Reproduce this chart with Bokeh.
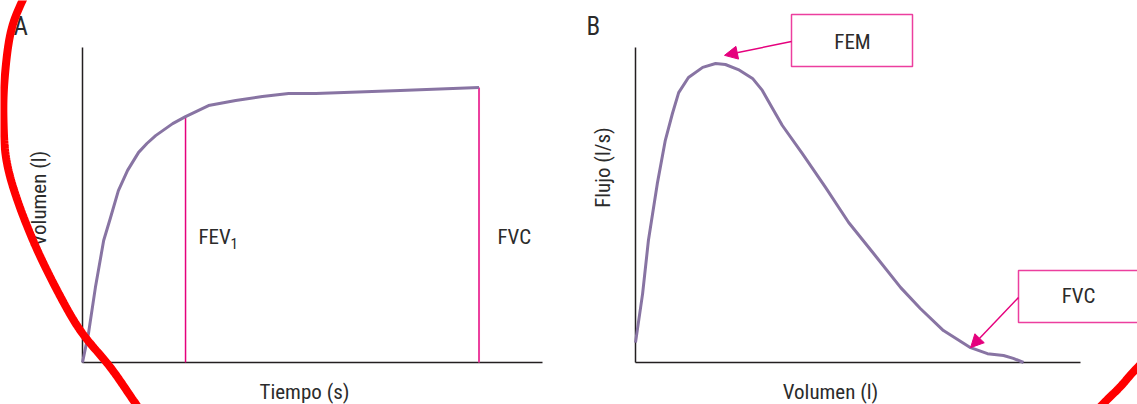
import numpy as np
from bokeh.plotting import figure
from bokeh.layouts import row
from bokeh.models import Label, Arrow, NormalHead, PolyAnnotation, Range1d
from bokeh.embed import file_html
from bokeh.resources import INLINE

# ---------------- data (schematic units) ----------------
# Panel A: volume-time curve
time_s = [0.0, 0.13, 0.28, 0.46, 0.61, 0.78, 0.98, 1.22, 1.40, 1.59, 1.96, 2.24, 2.74,
          3.33, 3.91, 4.48, 5.07, 6.91, 8.62]
volume_l = [0.0, 0.92, 2.37, 3.86, 4.59, 5.44, 6.08, 6.65, 6.93, 7.18, 7.56, 7.78, 8.13,
            8.29, 8.42, 8.51, 8.51, 8.61, 8.70]
fev1_t, fev1_v = 2.24, 7.78
fvc_t, fvc_v = 8.62, 8.70

# Panel B: flow-volume curve
fv_volume = [0.0, 0.16, 0.29, 0.49, 0.67, 0.83, 0.97, 1.19, 1.51, 1.80, 2.02, 2.31,
             2.63, 2.85, 3.08, 3.30, 3.75, 4.27, 4.79, 5.35, 5.96, 6.40, 6.92, 7.53,
             7.91, 8.27, 8.49, 8.72]
fv_flow = [0.63, 2.18, 3.86, 5.66, 7.03, 7.88, 8.54, 9.02, 9.34, 9.46, 9.43, 9.27,
           8.99, 8.61, 8.04, 7.50, 6.61, 5.54, 4.43, 3.45, 2.37, 1.71, 1.01, 0.47,
           0.28, 0.22, 0.13, 0.0]
pef_point = (2.0, 9.72)
fvc_point = (7.53, 0.47)

# axis extents (data units)
axis_x_max_A, axis_y_max_A = 10.0, 9.97
axis_x_max_B, axis_y_max_B = 10.0, 9.97

labels_A = {"panel": "A", "x": "Tiempo (s)", "y": "Volumen (l)", "fev": "FEV", "sub": "1", "fvc": "FVC"}
labels_B = {"panel": "B", "x": "Volumen (l)", "y": "Flujo (l/s)", "pef": "FEM", "fvc": "FVC"}

FONT = "'Liberation Sans Narrow', 'Roboto Condensed', Roboto, sans-serif"
TXT = "#2b2b2b"
AXIS = "#231f20"
PURPLE = "#8874a3"
MAGENTA = "#e5007d"
PINK = "#ec3f9e"
RED = "#ff0000"

H = 404
WA, WB = 570, 567
TY = 7  # text baseline correction in pixels

# page-pixel -> data helpers (layout only)
ax_A = lambda px: (px - 82) / 46.0
ay = lambda py: (362 - py) / 31.6
ax_B = lambda px: (px - 635) / 44.5


def make_fig(width, x0_page, xconv):
    p = figure(width=width, height=H, title=None,
               x_range=Range1d(xconv(x0_page), xconv(x0_page + width)),
               y_range=Range1d(ay(H), ay(0)),
               x_axis_type=None, y_axis_type=None,
               output_backend="svg", toolbar_location=None, min_border=0)
    p.grid.visible = False
    p.outline_line_color = None
    p.background_fill_color = "white"
    p.border_fill_color = "white"
    return p


def smooth(pts, n=14):
    pts = np.asarray(pts, float)
    P = np.vstack([pts[0], pts, pts[-1]])
    out = []
    for i in range(1, len(P) - 2):
        p0, p1, p2, p3 = P[i - 1], P[i], P[i + 1], P[i + 2]
        for t in np.linspace(0, 1, n, endpoint=False):
            out.append(0.5 * ((2 * p1) + (-p0 + p2) * t + (2 * p0 - 5 * p1 + 4 * p2 - p3) * t ** 2
                              + (-p0 + 3 * p1 - 3 * p2 + p3) * t ** 3))
    out.append(P[-2])
    return np.array(out)


def label(p, text, x, y, size="21px", align="left", baseline="alphabetic", angle=0.0):
    p.add_layout(Label(x=x, y=y, text=text, text_font=FONT, text_font_size=size,
                       text_color=TXT, text_align=align, text_baseline=baseline, angle=angle))


def axes(p, xmax, ymax):
    p.segment(x0=[0, 0], y0=[0, 0], x1=[xmax, 0], y1=[0, ymax],
              line_color=AXIS, line_width=1.5)


# ---------------- Panel A ----------------
pA = make_fig(WA, 0, ax_A)
axes(pA, axis_x_max_A, axis_y_max_A)
pA.segment(x0=[fev1_t], y0=[0], x1=[fev1_t], y1=[fev1_v], line_color=MAGENTA, line_width=1.5)
pA.segment(x0=[fvc_t], y0=[0], x1=[fvc_t], y1=[fvc_v], line_color=PINK, line_width=2)
pA.line(time_s, volume_l, line_color=PURPLE, line_width=3, line_join="round")

label(pA, labels_A["panel"], ax_A(13), ay(33 - TY), size="25px")
label(pA, labels_A["fev"], ax_A(198), ay(243 - TY))
label(pA, labels_A["sub"], ax_A(230), ay(250 - TY), size="15px")
label(pA, labels_A["fvc"], ax_A(497), ay(243 - TY))
label(pA, labels_A["x"], ax_A(304), ay(398 - TY), align="center")
label(pA, labels_A["y"], ax_A(38), ay(198), align="center", baseline="middle", angle=np.pi / 2)

left_arc = [(45, -45), (22, 0), (10, 33), (4, 80), (3, 120), (6, 160), (17, 200), (37, 250),
            (62, 300), (82, 333), (110, 367), (133, 400), (155, 432)]
la = smooth(left_arc)
la_x = [ax_A(v) for v in la[:, 0]] + [ax_A(-120), ax_A(-120)]
la_y = [ay(v) for v in la[:, 1]] + [ay(432), ay(-45)]
pA.add_layout(PolyAnnotation(xs=la_x, ys=la_y, fill_color=None, fill_alpha=0,
                             line_color=RED, line_alpha=1.0, line_width=8, level="overlay"))

# ---------------- Panel B ----------------
pB = make_fig(WB, WA, ax_B)
axes(pB, axis_x_max_B, axis_y_max_B)
pB.line(fv_volume, fv_flow, line_color=PURPLE, line_width=3, line_join="round")

# FEM callout
fem_box = [(791, 14), (912, 14), (912, 66), (791, 66)]
pB.add_layout(PolyAnnotation(xs=[ax_B(a) for a, b in fem_box], ys=[ay(b) for a, b in fem_box],
                             fill_color="white", fill_alpha=1, line_color=PINK, line_alpha=1.0,
                             line_width=1.5))
label(pB, labels_B["pef"], ax_B(852), ay(48 - TY), align="center")
pB.add_layout(Arrow(x_start=ax_B(791), y_start=ay(41), x_end=pef_point[0], y_end=pef_point[1],
                    line_color=MAGENTA, line_width=1.5,
                    end=NormalHead(size=13, fill_color=MAGENTA, line_color=MAGENTA)))

# FVC callout
fvc_box = [(1018, 270), (1160, 270), (1160, 322), (1018, 322)]
pB.add_layout(PolyAnnotation(xs=[ax_B(a) for a, b in fvc_box], ys=[ay(b) for a, b in fvc_box],
                             fill_color="white", fill_alpha=1, line_color=PINK, line_alpha=1.0,
                             line_width=1.5))
label(pB, labels_B["fvc"], ax_B(1078), ay(302 - TY), align="center")
pB.add_layout(Arrow(x_start=ax_B(1018), y_start=ay(297), x_end=fvc_point[0], y_end=fvc_point[1],
                    line_color=MAGENTA, line_width=1.5,
                    end=NormalHead(size=13, fill_color=MAGENTA, line_color=MAGENTA)))

label(pB, labels_B["panel"], ax_B(586), ay(33 - TY), size="25px")
label(pB, labels_B["x"], ax_B(830), ay(398 - TY), align="center")
label(pB, labels_B["y"], ax_B(602), ay(167), align="center", baseline="middle", angle=np.pi / 2)

right_arc = [(1180, 325), (1137, 367), (1120, 386), (1102, 404), (1080, 428)]
ra = smooth(right_arc)
ra_x = [ax_B(v) for v in ra[:, 0]] + [ax_B(1220), ax_B(1220)]
ra_y = [ay(v) for v in ra[:, 1]] + [ay(428), ay(325)]
pB.add_layout(PolyAnnotation(xs=ra_x, ys=ra_y, fill_color=None, fill_alpha=0,
                             line_color=RED, line_alpha=1.0, line_width=8, level="overlay"))

layout = row(pA, pB)
open("out.html", "w").write(file_html(layout, INLINE))
